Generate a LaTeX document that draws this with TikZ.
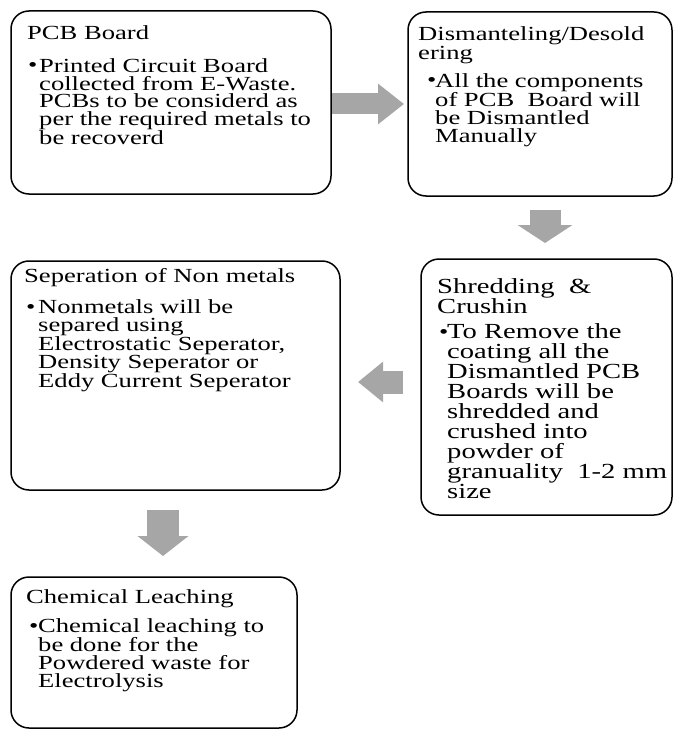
\documentclass[tikz,border=0pt]{standalone}
\usepackage{fontspec}
\setmainfont{Liberation Serif}[FakeStretch=1.33]
\usepackage{tikz}
\usetikzlibrary{arrows.meta,positioning,calc}
\definecolor{arrowgray}{HTML}{A6A6A6}

\tikzset{
	stage/.style={draw, line width=1.5pt, rounded corners=18pt, outer sep=0pt, inner sep=0pt},
	stagetitle/.style={anchor=north west, inner sep=0pt, align=left, font=\fontsize{20}{#1}\selectfont},
	stagetitle/.default=17.5,
	stagebullet/.style={anchor=base west, inner sep=0pt, font=\fontsize{20}{18}\selectfont},
	stagetext/.style={anchor=north west, inner sep=0pt, align=left, font=\fontsize{20}{#1}\selectfont},
	stagetext/.default=17.7,
	blockarrow/.style n args={3}{draw=arrowgray, line width=#1, -{Triangle[width=#2,length=#3]}}
}

\begin{document}
\begin{tikzpicture}[x=1pt, y=-1pt]
	\useasboundingbox (0,0) rectangle (674,730);

	\node[stage, minimum width=320pt, minimum height=183pt] (pcb) at (171,102.5) {};
	\node[stage, minimum width=264pt, minimum height=184pt] (dism) at (540,104) {};
	\node[stage, minimum width=251pt, minimum height=256pt] (shred) at (546.5,387) {};
	\node[stage, minimum width=329pt, minimum height=229pt] (sep) at (175.5,375.5) {};
	\node[stage, minimum width=286pt, minimum height=151pt] (leach) at (154,652.5) {};

	\node[stagetitle] (pcbtitle) at ([xshift=16pt, yshift=-14.4pt]pcb.north west) {PCB Board};
	\node[stagebullet] (pcbdot) at ([xshift=17pt, yshift=-61pt]pcb.north west) {\textbullet};
	\node[stagetext] (pcbtext) at ([xshift=28pt, yshift=-47.4pt]pcb.north west) {Printed Circuit Board\\collected from E-Waste.\\PCBs to be considerd as\\per the required metals to\\be recoverd};

	\node[stagetitle] (dismtitle) at ([xshift=10pt, yshift=-14.4pt]dism.north west) {Dismanteling/Desold\\ering};
	\node[stagebullet] (dismdot) at ([xshift=19pt, yshift=-75pt]dism.north west) {\textbullet};
	\node[stagetext=17.6] (dismtext) at ([xshift=27pt, yshift=-61.4pt]dism.north west) {All the components\\of PCB~ Board will\\be Dismantled\\Manually};

	\node[stagetitle, font=\fontsize{21.5}{18}\selectfont] (shredtitle) at ([xshift=16pt, yshift=-19.3pt]shred.north west) {Shredding~ \&\\Crushin};
	\node[stagebullet] (shreddot) at ([xshift=18pt, yshift=-79pt]shred.north west) {\textbullet};
	\node[stagetext, font=\fontsize{21.5}{20}\selectfont] (shredtext) at ([xshift=26pt, yshift=-64.3pt]shred.north west) {To Remove the\\coating all the\\Dismantled PCB\\Boards will be\\shredded and\\crushed into\\powder of\\granuality~ 1-2 mm\\size};

	\node[stagetitle] (septitle) at ([xshift=13pt, yshift=-7.4pt]sep.north west) {Seperation of Non metals};
	\node[stagebullet] (sepdot) at ([xshift=15pt, yshift=-52pt]sep.north west) {\textbullet};
	\node[stagetext=17.8] (septext) at ([xshift=27pt, yshift=-38.4pt]sep.north west) {Nonmetals will be\\separed using\\Electrostatic Seperator,\\Density Seperator or\\Eddy Current Seperator};

	\node[stagetitle] (leachtitle) at ([xshift=15pt, yshift=-12.4pt]leach.north west) {Chemical Leaching};
	\node[stagebullet] (leachdot) at ([xshift=18pt, yshift=-55pt]leach.north west) {\textbullet};
	\node[stagetext=18] (leachtext) at ([xshift=27pt, yshift=-41.4pt]leach.north west) {Chemical leaching to\\be done for the\\Powdered waste for\\Electrolysis};

	\coordinate (a1) at ([yshift=-1.5pt]pcb.east);
	\coordinate (a2) at ([xshift=5pt]dism.south);
	\coordinate (a3) at ([yshift=5pt]shred.west);
	\coordinate (a4) at ([xshift=-12.5pt]sep.south);
	\draw[blockarrow={21pt}{39pt}{26pt}, shorten <=1pt, shorten >=4pt] (a1) -- (a1 -| dism.west);
	\draw[blockarrow={31pt}{54pt}{18pt}, shorten <=14pt, shorten >=16pt] (a2) -- (a2 |- shred.north);
	\draw[blockarrow={23pt}{39pt}{25pt}, shorten <=18pt, shorten >=18pt] (a3) -- (a3 -| sep.east);
	\draw[blockarrow={32pt}{50pt}{20pt}, shorten <=20pt, shorten >=21pt] (a4) -- (a4 |- leach.north);
\end{tikzpicture}
\end{document}
